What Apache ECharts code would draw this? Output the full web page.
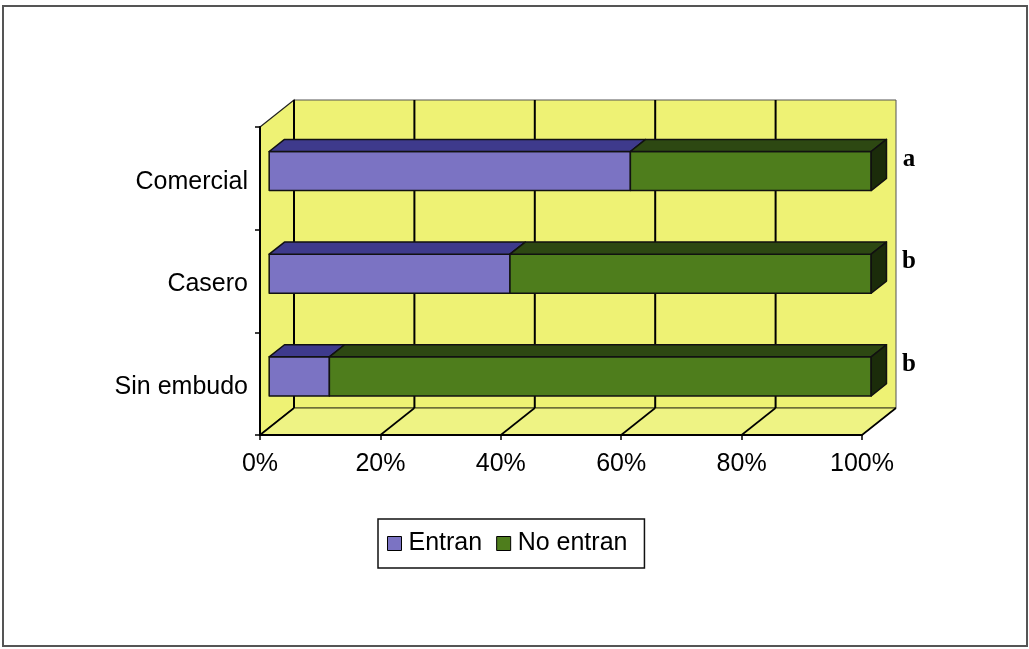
<!DOCTYPE html>
<html>
<head>
<meta charset="utf-8">
<script src="https://cdn.jsdelivr.net/npm/echarts@6.0.0/dist/echarts.min.js"></script>
<style>
  html, body { margin: 0; padding: 0; background: #ffffff; }
  #chart { width: 1029px; height: 649px; }
</style>
</head>
<body>
<div id="chart"></div>
<script>
// Categories and stacked percentages
const categories = ['Comercial', 'Casero', 'Sin embudo'];
const entran = [60, 40, 10];
const noEntran = [40, 60, 90];
const significance = ['a', 'b', 'b'];
const xTicks = [0, 20, 40, 60, 80, 100];

// Oblique depth of the 3D box, in pixels
const DEPTH = [34, -27];
const BAR_FRONT = 0.27;   // depth position of the bar's front face (fraction of DEPTH)
const BAR_DEPTH = 0.45;   // bar thickness along the depth (fraction of DEPTH)
const BAR_HEIGHT = 0.38;  // front face height as a fraction of the category band

const FONT = '"Liberation Sans", Arial, sans-serif';
const WALL = '#eef274';
const FLOOR = '#eef384';
const PURPLE = { front: '#7b73c3', top: '#3e3a8c', side: '#2e2a6a' };
const GREEN = { front: '#4e7d1c', top: '#2d4812', side: '#1b2c0a' };

// Back wall, left side wall, floor and their gridlines
function renderBox(params, api) {
  const cs = params.coordSys;
  const dx = DEPTH[0], dy = DEPTH[1];
  const x0 = cs.x, y0 = cs.y, x1 = cs.x + cs.width, y1 = cs.y + cs.height;
  const children = [
    { type: 'rect', shape: { x: x0 + dx, y: y0 + dy, width: cs.width, height: cs.height },
      style: { fill: WALL, stroke: '#555', lineWidth: 1 } },
    { type: 'polygon', shape: { points: [[x0, y0], [x0 + dx, y0 + dy], [x0 + dx, y1 + dy], [x0, y1]] },
      style: { fill: WALL, stroke: '#222', lineWidth: 1.2 } },
    { type: 'polygon', shape: { points: [[x0, y1], [x1, y1], [x1 + dx, y1 + dy], [x0 + dx, y1 + dy]] },
      style: { fill: FLOOR, stroke: '#3a3a10', lineWidth: 1 } }
  ];
  xTicks.forEach(function (v) {
    const x = api.coord([v, 0])[0];
    if (v < 100) {
      children.push({ type: 'line', shape: { x1: x + dx, y1: y0 + dy, x2: x + dx, y2: y1 + dy },
        style: { stroke: '#000', lineWidth: 2 } });
    }
    children.push({ type: 'line', shape: { x1: x, y1: y1, x2: x + dx, y2: y1 + dy },
      style: { stroke: '#000', lineWidth: 1.6 } });
  });
  return { type: 'group', children: children };
}

// One stacked segment drawn as an oblique box
function makeBarRenderer(colors, withSide) {
  return function (params, api) {
    const cat = api.value(0), start = api.value(1), end = api.value(2);
    const band = api.size([0, 1])[1];
    const p0 = api.coord([start, cat]);
    const p1 = api.coord([end, cat]);
    const ox = DEPTH[0] * BAR_FRONT, oy = DEPTH[1] * BAR_FRONT;
    const ddx = DEPTH[0] * BAR_DEPTH, ddy = DEPTH[1] * BAR_DEPTH;
    const h = band * BAR_HEIGHT;
    const xa = p0[0] + ox, xb = p1[0] + ox;
    const yt = p0[1] + oy - h / 2, yb = p0[1] + oy + h / 2;
    const stroke = { stroke: '#111', lineWidth: 1.5, lineJoin: 'round' };
    const children = [
      { type: 'rect', shape: { x: xa, y: yt, width: xb - xa, height: h },
        style: Object.assign({ fill: colors.front }, stroke) },
      { type: 'polygon', shape: { points: [[xa, yt], [xb, yt], [xb + ddx, yt + ddy], [xa + ddx, yt + ddy]] },
        style: Object.assign({ fill: colors.top }, stroke) }
    ];
    if (withSide) {
      children.push({ type: 'polygon',
        shape: { points: [[xb, yt], [xb + ddx, yt + ddy], [xb + ddx, yb + ddy], [xb, yb]] },
        style: Object.assign({ fill: colors.side }, stroke) });
    }
    return { type: 'group', children: children };
  };
}

// Significance letters to the right of each bar
function renderLetter(params, api) {
  const p = api.coord([api.value(0), api.value(1)]);
  return {
    type: 'text', x: p[0] + 47, y: p[1] - 19,
    style: { text: significance[params.dataIndex], fill: '#000',
      fontSize: 25, fontWeight: 'bold', fontFamily: '"Liberation Serif", "Times New Roman", serif',
      align: 'center', verticalAlign: 'middle' }
  };
}

const entranData = categories.map(function (c, i) { return [i, 0, entran[i]]; });
const noEntranData = categories.map(function (c, i) { return [i, entran[i], entran[i] + noEntran[i]]; });
const letterData = categories.map(function (c, i) { return [100, i]; });

const chart = echarts.init(document.getElementById('chart'));
chart.setOption({
  animation: false,
  backgroundColor: '#ffffff',
  grid: { left: 260, top: 127, width: 602, height: 308, containLabel: false },
  xAxis: {
    type: 'value', min: 0, max: 100, interval: 20, z: 5,
    axisLine: { show: true, lineStyle: { color: '#000', width: 2 } },
    axisTick: { show: true, length: 5, lineStyle: { color: '#000', width: 1.5 } },
    splitLine: { show: false },
    axisLabel: { formatter: '{value}%', fontSize: 25, color: '#000', fontFamily: FONT, margin: 17 }
  },
  yAxis: {
    type: 'category', data: categories, inverse: true, z: 5,
    axisLine: { show: true, lineStyle: { color: '#000', width: 2 } },
    axisTick: { show: true, length: 5, lineStyle: { color: '#000', width: 1.5 } },
    splitLine: { show: false },
    axisLabel: {
      margin: 12,
      formatter: '{v|{value}}',
      rich: { v: { fontSize: 25, color: '#000', fontFamily: FONT, padding: [7, 0, 0, 0] } }
    }
  },
  legend: {
    data: ['Entran', 'No entran'],
    left: 378, top: 519, orient: 'horizontal',
    padding: [12, 17, 12, 9], itemGap: 14,
    itemWidth: 18, itemHeight: 14,
    icon: 'path://M0,0H10V10H0Z',
    borderColor: '#111', borderWidth: 1.5, borderRadius: 0,
    itemStyle: { borderColor: '#000', borderWidth: 1 },
    textStyle: { fontSize: 25, color: '#000', fontFamily: FONT, lineHeight: 24 }
  },
  graphic: [{
    type: 'rect', silent: true,
    shape: { x: 3, y: 6, width: 1024, height: 640 },
    style: { fill: 'transparent', stroke: '#555', lineWidth: 2 }
  }],
  series: [
    { name: 'box', type: 'custom', silent: true, z: 1, renderItem: renderBox,
      encode: { x: 0, y: 1 }, data: [[0, 0]] },
    { name: 'Entran', type: 'custom', z: 2, renderItem: makeBarRenderer(PURPLE, false),
      itemStyle: { color: PURPLE.front }, encode: { x: [1, 2], y: 0 }, data: entranData },
    { name: 'No entran', type: 'custom', z: 2, renderItem: makeBarRenderer(GREEN, true),
      itemStyle: { color: GREEN.front }, encode: { x: [1, 2], y: 0 }, data: noEntranData },
    { name: 'letters', type: 'custom', silent: true, z: 3, renderItem: renderLetter,
      encode: { x: 0, y: 1 }, data: letterData }
  ]
});
</script>
</body>
</html>
